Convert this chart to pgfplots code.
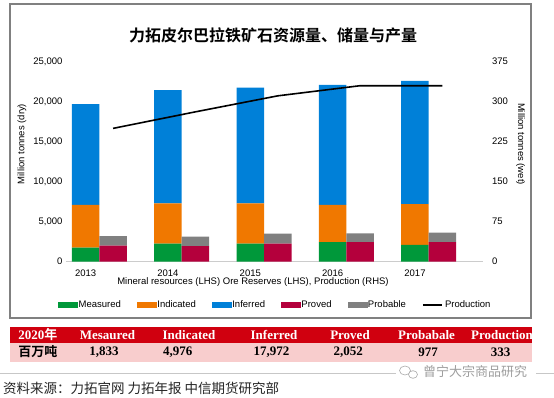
\documentclass[border=0pt]{standalone}
\usepackage{fontspec}
\setmainfont{Liberation Sans}
\newfontfamily\tms{Liberation Serif}
\newfontfamily\cjk{Noto Sans CJK SC}[BoldFont={Noto Sans CJK SC Bold}]
\usepackage{pgfplots}
\pgfplotsset{compat=1.18}
\definecolor{cMea}{HTML}{00983A}
\definecolor{cInd}{HTML}{F07800}
\definecolor{cInf}{HTML}{0080D8}
\definecolor{cPro}{HTML}{B4003C}
\definecolor{cPrb}{HTML}{808080}
\definecolor{hdr}{HTML}{D0000F}
\definecolor{pnk}{HTML}{F8CDCD}
\pgfplotsset{base/.style={scale only axis, width=417pt, height=200pt,
  at={(66pt,-261.7pt)}, anchor=south west,
  xmin=2012.595, xmax=2017.659, major tick length=0pt,
  tick label style={font=\fontsize{9.5}{11}\selectfont},
  label style={font=\fontsize{9.5}{11}\selectfont},
  /pgf/number format/assume math mode=true}}
\begin{document}
\begin{tikzpicture}
\path[use as bounding box, fill=white] (0pt,0pt) rectangle (554pt,-398pt);
\draw[cPrb, line width=1.2pt] (10pt,-4pt) rectangle (531pt,-318pt);
\node[font=\cjk\bfseries\fontsize{16}{18}\selectfont] at (273pt,-35.3pt) {力拓皮尔巴拉铁矿石资源量、储量与产量};
% resources
\begin{axis}[base, ymin=0, ymax=25000, ybar stacked, bar width=0.334,
  axis x line*=bottom, axis y line*=left,
  y axis line style={draw=none}, x axis line style={draw=black!20, line width=0.8pt},
  xtick={2012.833,2013.833,2014.833,2015.833,2016.833},
  xticklabels={2013,2014,2015,2016,2017},
  xticklabel style={yshift=-4.6pt},
  ytick={0,5000,10000,15000,20000,25000}, scaled y ticks=false,
  yticklabel style={/pgf/number format/1000 sep={,}},
  ylabel={Million tonnes (dry)},
  ylabel style={at={(axis description cs:-0.1055,0.5885)}, anchor=center},
  xlabel={Mineral resources (LHS) Ore Reserves (LHS), Production (RHS)},
  xlabel style={at={(axis description cs:0.4484,-0.103)}, anchor=center}]
\addplot[fill=cMea, draw=none] coordinates {(2012.833,1750) (2013.833,2250) (2014.833,2250) (2015.833,2450) (2016.833,2100)};
\addplot[fill=cInd, draw=none] coordinates {(2012.833,5350) (2013.833,5050) (2014.833,5050) (2015.833,4650) (2016.833,5100)};
\addplot[fill=cInf, draw=none] coordinates {(2012.833,12600) (2013.833,14150) (2014.833,14450) (2015.833,15000) (2016.833,15400)};
\end{axis}
% reserves
\begin{axis}[base, ymin=0, ymax=25000, ybar stacked, bar width=0.334, hide axis]
\addplot[fill=cPro, draw=none] coordinates {(2013.167,2000) (2014.167,1950) (2015.167,2250) (2016.167,2450) (2017.167,2450)};
\addplot[fill=cPrb, draw=none] coordinates {(2013.167,1200) (2014.167,1200) (2015.167,1250) (2016.167,1100) (2017.167,1200)};
\end{axis}
% production
\begin{axis}[base, ymin=0, ymax=375, axis x line=none, axis y line*=right,
  y axis line style={draw=none},
  ytick={0,75,150,225,300,375},
  yticklabel style={xshift=5.5pt},
  ylabel={Million tonnes (wet)},
  ylabel style={at={(axis description cs:1.0904,0.5885)}, anchor=center, rotate=180},
  legend columns=6,
  legend style={draw=none, fill=none, at={(axis description cs:0.501,-0.2165)}, anchor=center,
    font=\fontsize{9.5}{11}\selectfont,
    /tikz/every even column/.append style={column sep=15pt},
    nodes={inner xsep=1pt}}]
\addlegendimage{legend image code/.code={\fill[cMea] (0pt,-2.5pt) rectangle (19pt,2.5pt);}}
\addlegendentry{Measured}
\addlegendimage{legend image code/.code={\fill[cInd] (0pt,-2.5pt) rectangle (19pt,2.5pt);}}
\addlegendentry{Indicated}
\addlegendimage{legend image code/.code={\fill[cInf] (0pt,-2.5pt) rectangle (19pt,2.5pt);}}
\addlegendentry{Inferred}
\addlegendimage{legend image code/.code={\fill[cPro] (0pt,-2.5pt) rectangle (19pt,2.5pt);}}
\addlegendentry{Proved}
\addlegendimage{legend image code/.code={\fill[cPrb] (0pt,-2.5pt) rectangle (19pt,2.5pt);}}
\addlegendentry{Probable}
\addplot[black, line width=1.6pt, mark=none,
  legend image code/.code={\draw[black,line width=1.5pt] (0pt,0pt) -- (19pt,0pt);}]
  coordinates {(2013.167,250) (2014.167,281) (2015.167,311) (2016.167,330) (2017.167,330)};
\addlegendentry{\,Production}
\end{axis}
% table
\fill[hdr] (10pt,-327.3pt) rectangle (531.7pt,-342.7pt);
\fill[pnk] (10pt,-342.7pt) rectangle (531.7pt,-361.7pt);
\begin{scope}[every node/.style={font=\tms\bfseries\fontsize{13}{14}\selectfont, inner sep=0pt}]
\node[text=white] at (37.8pt,-335pt) {2020{\cjk\bfseries 年}};
\node[text=white] at (107.5pt,-335pt) {Mesaured};
\node[text=white] at (189pt,-335pt) {Indicated};
\node[text=white] at (274pt,-335pt) {Inferred};
\node[text=white] at (350pt,-335pt) {Proved};
\node[text=white] at (426.5pt,-335pt) {Probabale};
\node[text=white] at (502pt,-335pt) {Production};
\node at (37.8pt,-352pt) {\cjk\bfseries 百万吨};
\node at (104pt,-352pt) {1,833};
\node at (177.7pt,-352pt) {4,976};
\node at (271.5pt,-352pt) {17,972};
\node at (348.3pt,-352pt) {2,052};
\node at (428pt,-352pt) {977};
\node at (500.5pt,-352pt) {333};
\end{scope}
% footer
\draw[black!22, line width=0.9pt] (0pt,-373.3pt) -- (554pt,-373.3pt);
\fill[white] (396pt,-364pt) rectangle (536pt,-381pt);
\draw[black!35, line width=0.6pt] (405pt,-370.5pt) ellipse (5.5pt and 4.5pt);
\draw[black!35, line width=0.6pt, fill=white] (413pt,-374.5pt) ellipse (4.5pt and 3.8pt);
\node[anchor=west, text=black!38, font=\cjk\fontsize{13}{14}\selectfont, inner sep=0pt] at (423pt,-372pt) {曾宁大宗商品研究};
\node[anchor=west, text=black!85, font=\cjk\fontsize{13.5}{15}\selectfont, inner sep=0pt] at (3pt,-388.3pt) {资料来源：力拓官网 力拓年报 中信期货研究部};
\end{tikzpicture}
\end{document}
